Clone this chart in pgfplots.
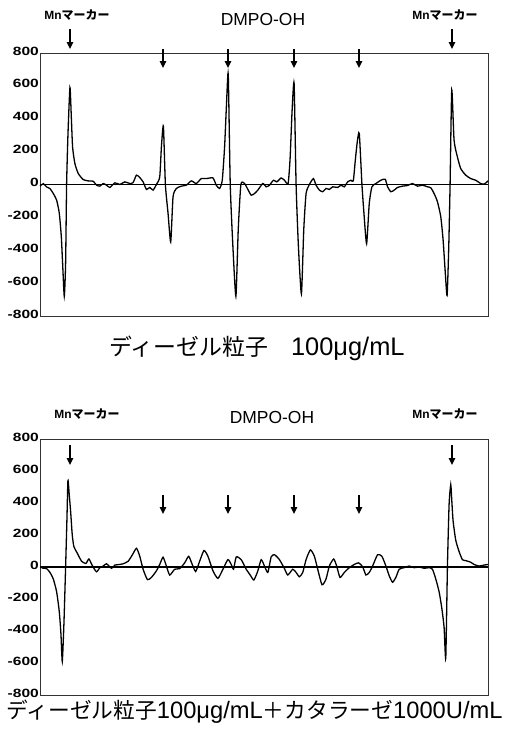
\documentclass[border=0pt]{standalone}
\usepackage{fontspec}
\setmainfont{Liberation Sans}
\newfontfamily\jp{Noto Sans CJK JP}
\newfontfamily\tickfont{Liberation Sans Bold}[FakeStretch=1.3]
\usepackage{pgfplots}
\pgfplotsset{compat=1.18}
\usetikzlibrary{arrows.meta}

% ESR spectra, intensity in arbitrary units against field position
\pgfplotsset{
  esr/.style={
    scale only axis,
    anchor=north west,
    width=448bp,
    xmin=120, xmax=1467,
    ymin=-800, ymax=800,
    ytick={-800,-600,...,800},
    xtick=\empty,
    major tick length=0pt,
    axis line style={draw=black!80, line width=0.9bp},
    yticklabel style={font=\tickfont\fontsize{12}{13}\selectfont, inner sep=1bp, yshift=2bp},
    /pgf/number format/assume math mode=true,
    clip=false,
  },
  trace/.style={black, line width=1.3bp, no marks, smooth, tension=0.35},
  zeroline/.style={black, line width=1.8bp, no marks},
}

\begin{document}
\begin{tikzpicture}
\path[use as bounding box] (0,0) rectangle (509bp,-740bp);

% ---------- DEP 100 ug/mL ----------
\begin{axis}[esr, at={(40bp,-53bp)}, height=263bp]
\addplot[zeroline] coordinates {(120,0) (1467,0)};
\addplot[trace] coordinates {
(120,-10)(130,5)(140,-15)(150,-25)(160,-55)(170,-95)(178,-175)(184,-315)(188,-480)(193,-680)(197,-480)(200,0)(204,300)(210,590)(214,420)(218,228)(225,127)(235,67)(250,30)(265,22)(280,20)(290,-4)(300,-10)(310,6)(320,-4)(330,-18)(345,10)(360,0)(375,16)(390,6)(400,12)(410,57)(420,42)(430,16)(440,-30)(450,-18)(460,-34)(470,0)(480,46)(485,228)(491,355)(497,0)(505,-175)(513,-350)(520,-75)(530,-24)(545,-10)(560,-4)(575,22)(590,6)(605,36)(620,36)(640,40)(650,-4)(660,-24)(668,26)(675,228)(681,500)(686,670)(692,0)(700,-378)(709,-680)(716,-277)(724,0)(735,6)(745,-30)(755,-65)(765,-55)(775,-34)(790,6)(800,-14)(810,-4)(822,26)(832,16)(845,40)(855,26)(866,6)(872,160)(878,450)(884,615)(890,0)(897,-378)(906,-665)(913,-277)(920,-55)(930,0)(942,36)(950,-4)(960,-34)(970,-44)(980,-24)(990,-30)(1000,-14)(1015,-18)(1025,-4)(1035,-14)(1045,16)(1055,26)(1062,22)(1068,147)(1074,260)(1080,310)(1088,0)(1094,-175)(1102,-360)(1110,-115)(1118,-14)(1130,6)(1145,26)(1158,32)(1165,-14)(1175,-44)(1185,-34)(1195,-18)(1210,-10)(1225,-6)(1240,6)(1255,-10)(1270,-4)(1285,-14)(1295,-20)(1305,-55)(1315,-105)(1325,-196)(1332,-337)(1338,-520)(1344,-675)(1349,-378)(1353,0)(1358,575)(1365,269)(1375,168)(1385,97)(1400,57)(1415,36)(1430,26)(1445,6)(1455,2)(1462,12)(1467,22)
};
\end{axis}

% ---------- DEP 100 ug/mL + catalase ----------
\begin{axis}[esr, at={(40bp,-439bp)}, height=256bp]
\addplot[zeroline] coordinates {(120,0) (1467,0)};
\addplot[trace] coordinates {
(120,0)(130,-8)(140,-10)(150,-34)(160,-75)(170,-155)(178,-280)(183,-420)(187,-590)(192,-350)(197,0)(201,300)(204,540)(208,450)(212,350)(217,200)(222,127)(232,87)(245,36)(258,22)(267,50)(278,6)(290,-30)(300,-4)(310,6)(320,20)(335,-8)(345,12)(360,16)(370,20)(385,36)(398,77)(410,117)(420,67)(430,-14)(443,-79)(455,-65)(470,-24)(480,16)(490,61)(500,6)(510,-50)(525,-14)(540,-10)(555,26)(567,67)(577,20)(588,-28)(600,36)(613,103)(625,67)(640,-24)(655,-71)(670,-14)(685,46)(695,16)(702,-14)(710,63)(725,46)(740,-14)(752,-50)(763,-81)(775,-24)(785,46)(795,6)(805,-34)(815,63)(825,77)(840,46)(855,-10)(865,-50)(880,-14)(890,-34)(900,-61)(910,-34)(920,46)(933,107)(945,67)(955,-14)(968,-111)(980,-75)(990,6)(1003,50)(1012,6)(1022,-65)(1035,-34)(1050,-4)(1065,16)(1078,26)(1090,2)(1100,-50)(1110,-34)(1120,6)(1135,77)(1148,67)(1160,6)(1170,-55)(1180,-95)(1190,-65)(1200,-14)(1215,-4)(1230,6)(1245,-4)(1260,0)(1275,-8)(1290,-4)(1300,-14)(1310,-75)(1320,-155)(1328,-256)(1335,-378)(1340,-570)(1345,0)(1350,390)(1355,515)(1358,420)(1362,289)(1370,168)(1380,97)(1390,46)(1400,40)(1415,30)(1425,16)(1440,6)(1455,12)(1467,16)
};
\end{axis}

% ---------- peak labels and arrows ----------
\tikzset{pk/.style={line width=1.5bp, -{Triangle[width=6.5bp,length=7bp]}}}
\def\mnlabel{{\fontsize{12}{13}\selectfont\bfseries Mn\jp マーカー}}
\def\dmpo{{\fontsize{17.5}{19}\selectfont DMPO-OH}}
\node at (77bp,-15bp) {\mnlabel};
\node at (445bp,-15bp) {\mnlabel};
\node at (263bp,-19bp) {\dmpo};
\draw[pk] (70bp,-29bp) -- (70bp,-49bp);
\draw[pk] (452bp,-29bp) -- (452bp,-49bp);
\foreach \xx in {163,228,294,359} \draw[pk] (\xx bp,-49bp) -- (\xx bp,-68bp);

\node at (87bp,-414bp) {\mnlabel};
\node at (445bp,-414bp) {\mnlabel};
\node at (272bp,-417bp) {\dmpo};
\draw[pk] (70bp,-445bp) -- (70bp,-465bp);
\draw[pk] (452bp,-445bp) -- (452bp,-465bp);
\foreach \xx in {163,228,294,359} \draw[pk] (\xx bp,-495bp) -- (\xx bp,-514bp);

% ---------- titles ----------
\node at (257bp,-348bp) {{\fontsize{23}{26}\selectfont\jp ディーゼル粒子　}{\fontsize{25.5}{27}\selectfont 100μg/mL}};
\node[inner sep=0pt] at (254.5bp,-712bp) {{\fontsize{21.8}{24}\selectfont\jp ディーゼル粒子}{\fontsize{23.8}{26}\selectfont 100μg/mL}{\fontsize{21.8}{24}\selectfont\jp ＋カタラーゼ}{\fontsize{23.8}{26}\selectfont 1000U/mL}};
\end{tikzpicture}
\end{document}
